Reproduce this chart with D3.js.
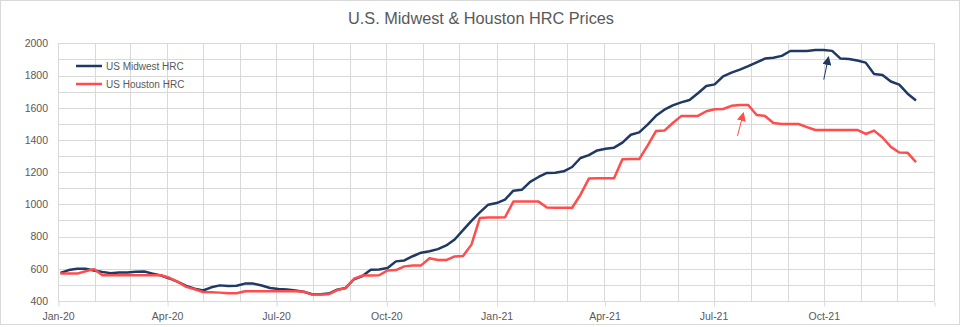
<!DOCTYPE html>
<html>
<head>
<meta charset="utf-8">
<script src="https://cdn.jsdelivr.net/npm/d3@7"></script>
<style>
  body { margin: 0; background: #fff; }
  svg { display: block; }
</style>
</head>
<body>
<div id="chart"></div>
<script>
// weekly (Friday) price readings, first week of Jan-20 to mid Dec-21
const firstWeek = '2020-01-03';
const midwestHRC = [
  575, 592, 600, 600, 590, 580, 573, 577, 577, 581, 583, 570, 558, 540, 519, 494, 477, 465,
  485, 497, 493, 495, 508, 508, 496, 481, 475, 471, 465, 457, 442, 442, 446, 470, 481, 535,
  555, 594, 596, 605, 646, 652, 678, 700, 709, 722, 745, 782, 840, 898, 950, 998, 1008, 1030,
  1085, 1090, 1140, 1170, 1195, 1196, 1205, 1232, 1288, 1306, 1335, 1345, 1352, 1383, 1432, 1447,
  1495, 1550, 1588, 1615, 1633, 1648, 1690, 1735, 1745, 1795, 1818, 1837, 1858, 1882, 1905, 1910,
  1922, 1952, 1952, 1952, 1958, 1958, 1953, 1905, 1903, 1893, 1880, 1810, 1803, 1763, 1743, 1687,
  1645
];
const houstonHRC = [
  570, 570, 570, 585, 598, 560, 560, 560, 560, 560, 560, 560, 560, 544, 519, 488, 473, 456,
  454, 452, 448, 448, 460, 460, 460, 460, 460, 460, 460, 458, 440, 440, 442, 468, 480, 538,
  558, 558, 560, 590, 592, 615, 621, 621, 665, 654, 654, 677, 679, 750, 915, 919, 919, 920,
  1017, 1017, 1017, 1017, 980, 979, 979, 979, 1060, 1160, 1162, 1162, 1162, 1280, 1281, 1281,
  1365, 1455, 1458, 1505, 1548, 1549, 1549, 1578, 1590, 1592, 1612, 1617, 1617, 1555, 1549, 1505,
  1499, 1499, 1499, 1480, 1462, 1462, 1462, 1462, 1462, 1462, 1437, 1458, 1415, 1357, 1322, 1320,
  1262
];
const seriesNames = ['US Midwest HRC', 'US Houston HRC'];
const yTicks = [400, 600, 800, 1000, 1200, 1400, 1600, 1800, 2000];
const xTickLabels = ['Jan-20', 'Apr-20', 'Jul-20', 'Oct-20', 'Jan-21', 'Apr-21', 'Jul-21', 'Oct-21'];
// annotation arrows: [from date, from value, to date, to value]
const midwestArrow = ['2021-10-01', 1775, '2021-10-05', 1915];
const houstonArrow = ['2021-07-21', 1425, '2021-07-26', 1568];

const width = 962;
const height = 327;
const margin = { top: 43.3, right: 28, bottom: 26, left: 58 };
const colors = ['#1f3864', '#ff4d4d'];
const gridColor = '#d9d9d9';
const textColor = '#595959';
const fontFamily = '"Liberation Sans", Arial, sans-serif';

const parse = d3.timeParse('%Y-%m-%d');
const start = parse(firstWeek);
const weeks = d3.timeFriday.range(start, d3.timeDay.offset(start, 7 * midwestHRC.length));

const svg = d3.select('#chart')
  .append('svg')
  .attr('width', width)
  .attr('height', height);

// outer chart border
svg.append('rect')
  .attr('x', 0.5).attr('y', 0.5)
  .attr('width', width - 3).attr('height', height - 3)
  .attr('fill', 'none')
  .attr('stroke', gridColor);

const x = d3.scaleTime()
  .domain([new Date(2020, 0, 1), new Date(2022, 0, 1)])
  .range([margin.left, width - margin.right]);

const y = d3.scaleLinear()
  .domain([400, 2000])
  .range([height - margin.bottom, margin.top]);

// horizontal gridlines every 100
const grid = svg.append('g').attr('class', 'grid');
grid.selectAll('line.h')
  .data(d3.range(400, 2001, 100))
  .enter()
  .append('line')
  .attr('class', 'h')
  .attr('x1', x.range()[0]).attr('x2', x.range()[1])
  .attr('y1', d => Math.round(y(d)) + 0.5).attr('y2', d => Math.round(y(d)) + 0.5)
  .attr('stroke', gridColor);

// vertical gridlines every month
grid.selectAll('line.v')
  .data(d3.timeMonth.range(x.domain()[0], d3.timeDay.offset(x.domain()[1], 1)))
  .enter()
  .append('line')
  .attr('class', 'v')
  .attr('x1', d => Math.round(x(d)) + 0.5).attr('x2', d => Math.round(x(d)) + 0.5)
  .attr('y1', y.range()[1]).attr('y2', y.range()[0])
  .attr('stroke', gridColor);

// x axis: quarterly labels
const xAxis = d3.axisBottom(x)
  .tickValues(d3.timeMonth.every(3).range(x.domain()[0], x.domain()[1]).concat([x.domain()[1]]))
  .tickFormat((d, i) => xTickLabels[i] || '')
  .tickSize(5)
  .tickPadding(6);

const gx = svg.append('g')
  .attr('transform', `translate(0, ${Math.round(y(400)) + 0.5})`)
  .call(xAxis);
gx.select('.domain').remove();
gx.selectAll('.tick line').attr('stroke', gridColor).attr('transform', 'translate(0.5,0)');
gx.selectAll('.tick text')
  .attr('fill', textColor)
  .attr('font-family', fontFamily)
  .attr('font-size', 10.5);

// y axis
const yAxis = d3.axisLeft(y)
  .tickValues(yTicks)
  .tickFormat(d3.format('d'))
  .tickSize(0)
  .tickPadding(10);

const gy = svg.append('g')
  .attr('transform', `translate(${margin.left}, 0)`)
  .call(yAxis);
gy.select('.domain').remove();
gy.selectAll('.tick text')
  .attr('fill', textColor)
  .attr('font-family', fontFamily)
  .attr('font-size', 10.5);

// lines
const line = d3.line()
  .x((d, i) => x(weeks[i]))
  .y(d => y(d));

svg.selectAll('path.series')
  .data([midwestHRC, houstonHRC])
  .enter()
  .append('path')
  .attr('class', 'series')
  .attr('d', line)
  .attr('fill', 'none')
  .attr('stroke', (d, i) => colors[i])
  .attr('stroke-width', 2.5)
  .attr('stroke-linejoin', 'round');

// arrow heads
const defs = svg.append('defs');
colors.forEach((c, i) => {
  defs.append('marker')
    .attr('id', `arrow${i}`)
    .attr('viewBox', '0 0 10 10')
    .attr('refX', 9).attr('refY', 5)
    .attr('markerWidth', 9).attr('markerHeight', 9)
    .attr('markerUnits', 'userSpaceOnUse')
    .attr('orient', 'auto')
    .append('path')
    .attr('d', 'M0,0 L10,5 L0,10 Z')
    .attr('fill', c);
});

svg.selectAll('line.arrow')
  .data([midwestArrow, houstonArrow])
  .enter()
  .append('line')
  .attr('class', 'arrow')
  .attr('x1', d => x(parse(d[0]))).attr('y1', d => y(d[1]))
  .attr('x2', d => x(parse(d[2]))).attr('y2', d => y(d[3]))
  .attr('stroke', (d, i) => colors[i])
  .attr('stroke-width', 1)
  .attr('marker-end', (d, i) => `url(#arrow${i})`);

// legend
const legend = svg.append('g')
  .attr('transform', 'translate(76, 66)');
const legendItem = legend.selectAll('g')
  .data(seriesNames)
  .enter()
  .append('g')
  .attr('transform', (d, i) => `translate(0, ${i * 18})`);
legendItem.append('line')
  .attr('x1', 0).attr('x2', 26)
  .attr('stroke', (d, i) => colors[i])
  .attr('stroke-width', 2.5);
legendItem.append('text')
  .attr('x', 30)
  .attr('dy', '0.35em')
  .attr('fill', textColor)
  .attr('font-family', fontFamily)
  .attr('font-size', 10)
  .text(d => d);

// title
svg.append('text')
  .attr('x', 481)
  .attr('y', 24)
  .attr('text-anchor', 'middle')
  .attr('fill', textColor)
  .attr('font-family', fontFamily)
  .attr('font-size', 16.3)
  .text('U.S. Midwest & Houston HRC Prices');
</script>
</body>
</html>
